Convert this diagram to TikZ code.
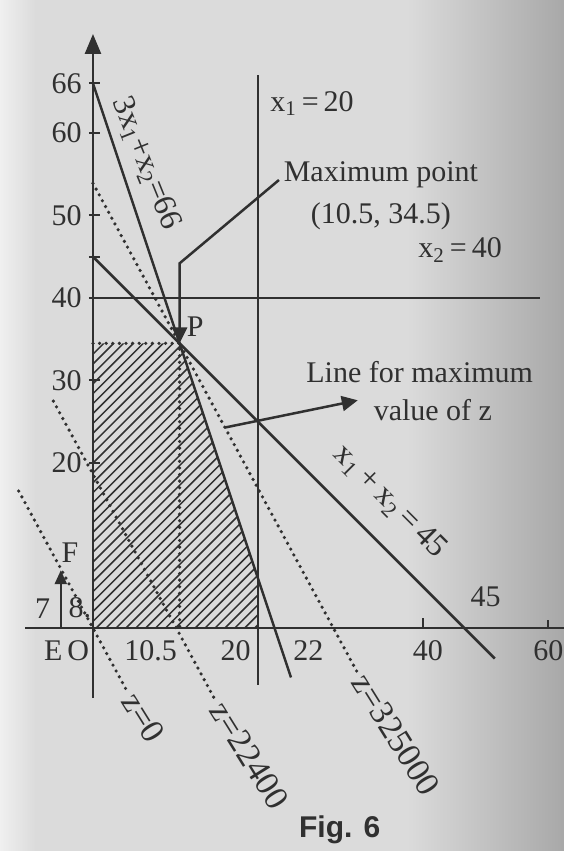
\documentclass[tikz,border=0pt]{standalone}
\usepackage{fontspec}
\setmainfont{Liberation Serif}
\newfontfamily\figfont{Liberation Sans}
\usetikzlibrary{arrows.meta,calc}
\definecolor{ink}{RGB}{48,48,48}
\begin{document}
\begin{tikzpicture}[x=4.125pt,y=4.125pt,
  every node/.style={text=ink, inner sep=1pt},
  lbl/.style={font=\fontsize{15}{17}\selectfont},
  eqlbl/.style={font=\fontsize{16}{18}\selectfont},
  zlbl/.style={font=\fontsize{17}{19}\selectfont, rotate=-58, anchor=west, inner sep=2pt},
  solidline/.style={draw=ink, line width=1.25pt},
  zline/.style={draw=ink, line width=1.8pt, line cap=round, dash pattern=on 0pt off 3.3pt},
  tickmark/.style={draw=ink, line width=1pt},
  hatchline/.style={draw=ink, line width=0.75pt},
  bigtip/.style={-{Triangle[width=7.5pt,length=8pt]}},
  smalltip/.style={-{Triangle[width=6pt,length=7pt]}}
]
% background (page)
\useasboundingbox (-11.27,-27.03) rectangle (57.09,76.12);
\fill[black!14] (-11.27,-27.03) rectangle (57.09,76.12);
\shade[left color=black!6, right color=black!14] (-11.27,-27.03) rectangle (-7,76.12);
\shade[left color=black!14, right color=black!34] (38,-27.03) rectangle (57.09,76.12);

% key points
\coordinate (O) at (0,0);
\coordinate (P) at (10.5,34.5);
\coordinate (Ybot) at (0,-8.5);
\coordinate (Ytop) at (0,72);
\coordinate (Xl) at (-8.2,0);
\coordinate (Xr) at (57.09,0);
\coordinate (V1) at (20,-6.9);
\coordinate (V2) at (20,67);
\coordinate (H1) at (0,40);
\coordinate (H2) at (54.2,40);
\coordinate (C1) at (0,66);
\coordinate (C2) at (24,-6);
\coordinate (D1) at (0,45);
\coordinate (D2) at (48.7,-3.7);
\coordinate (A1) at (0,53.9);
\coordinate (A2) at (32,-5.3);
\coordinate (B1) at (-4.8,27.5);
\coordinate (B2) at (14.8,-8.7);
\coordinate (Z1) at (-9,16.6);
\coordinate (Z2) at (4.1,-7.6);
\coordinate (Q1) at (0,34.5);
\coordinate (Q2) at (10.5,0);
\coordinate (R1) at (20,6);
\coordinate (R2) at (20,0);

% hatched feasible region
\begin{scope}
  \clip (O) -- (Q1) -- (P) -- (R1) -- (R2) -- cycle;
  \foreach \k in {-44,-42.8,...,22} {
    \draw[hatchline] (\k,0) -- ++(40,40);
  }
\end{scope}

% dotted projections of P
\draw[zline] (Q1) -- (P) -- (Q2);

% axes
\draw[solidline, -{Triangle[width=8pt,length=10pt]}] (Ybot) -- (Ytop);
\draw[solidline] (Xl) -- (Xr);

% constraint lines
\draw[solidline] (V1) -- (V2);
\draw[solidline] (H1) -- (H2);
\draw[solidline] (C1) -- (C2);
\draw[solidline] (D1) -- (D2);

% iso-profit lines
\draw[zline] (A1) -- (A2) node[zlbl] (zA) {z=325000};
\draw[zline] (B1) -- (B2) node[zlbl] (zB) {z=22400};
\draw[zline] (Z1) -- (Z2) node[zlbl] (zC) {z=0};

% y-axis ticks and labels
\foreach \v in {66,60,50,45,40,30,20} {
  \draw[tickmark] (-0.5,\v) -- (0.8,\v);
}
\foreach \v in {66,60,50,40,30,20} {
  \node[lbl, anchor=east] (y\v) at (-1.1,\v) {\v};
}

% x-axis ticks and labels
\draw[tickmark] (40,0) -- (40,1.2);
\draw[tickmark] (55.2,0) -- (55.2,1.0);
\node[lbl] (xE) at (-4.8,-2.7) {E};
\node[lbl] (xO) at (-1.8,-2.7) {O};
\node[lbl] (x105) at (7.0,-2.7) {10.5};
\node[lbl] (x20) at (17.3,-2.7) {20};
\node[lbl] (x22) at (26.1,-2.7) {22};
\node[lbl] (x40) at (40.6,-2.7) {40};
\node[lbl] (x60) at (55.2,-2.7) {60};
\node[lbl] (x45) at (47.6,3.8) {45};

% E -> F
\coordinate (Ept) at (-3.9,0);
\coordinate (Fpt) at (-3.9,7.0);
\draw[solidline, smalltip] (Ept) -- (Fpt);
\node[lbl] (Flbl) at (-2.8,9.1) {F};
\node[lbl] (n7) at (-6.1,2.4) {7};
\node[lbl] (n8) at (-1.6,2.4) {8.};

% line labels
\node[eqlbl, rotate=-68] (eq66) at (6.4,56.3)
  {3x\textsubscript{1}+x\textsubscript{2}=66};
\node[eqlbl, rotate=-45] (eq45) at (36.0,15.3)
  {x\textsubscript{1}\,+\,x\textsubscript{2}\,=\,45};
\node[lbl, anchor=west] (eqx1) at (21.2,63.6) {x\textsubscript{1}\,=\,20};
\node[lbl] (eqx2) at (44.5,45.8) {x\textsubscript{2}\,=\,40};

% maximum point annotation
\node[lbl] (mp) at (34.9,54.9) {Maximum point};
\node[lbl] (mpc) at (34.9,49.9) {(10.5, 34.5)};
\coordinate (mpk) at (10.5,44.2);
\draw[solidline, bigtip] ($(mp.west)+(-0.3,-0.6)$) -- (mpk) -- (P);
\node[lbl] (Plbl) at (12.4,36.5) {P};

% line for maximum value of z
\node[lbl] (lm1) at (39.6,31.0) {Line for maximum};
\node[lbl] (lm2) at (41.2,26.4) {value of z};
\coordinate (la) at ($(A1)!0.5!(A2)$);
\coordinate (lb) at (32.1,27.6);
\draw[solidline, bigtip] (la) -- (lb);

% caption
\node[font=\figfont\bfseries\fontsize{15}{17}\selectfont] (cap) at (29.9,-24.5) {Fig. 6};
\end{tikzpicture}
\end{document}
